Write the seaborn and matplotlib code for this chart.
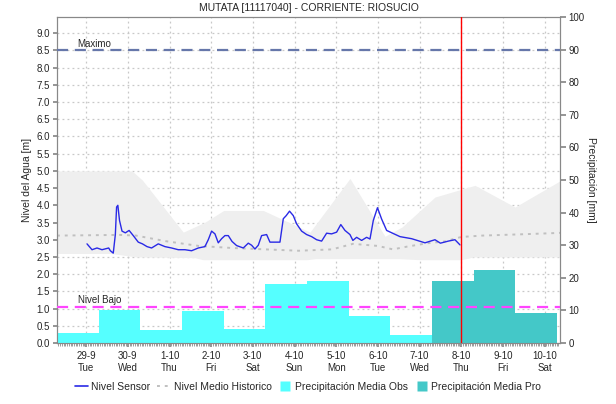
import numpy as np
import pandas as pd
import matplotlib
matplotlib.use("Agg")
import matplotlib.pyplot as plt
from matplotlib.lines import Line2D
from matplotlib.ticker import MultipleLocator, FormatStrFormatter
import seaborn as sns

# ---------------- data ----------------
day_labels = ["29-9", "30-9", "1-10", "2-10", "3-10", "4-10", "5-10", "6-10", "7-10", "8-10", "9-10", "10-10"]
weekday_labels = ["Tue", "Wed", "Thu", "Fri", "Sat", "Sun", "Mon", "Tue", "Wed", "Thu", "Fri", "Sat"]

# precipitation per day [mm]
precip_obs = [3.0, 10.2, 4.0, 9.8, 4.3, 18.1, 19.0, 8.4, 2.5]
precip_pro = [19.0, 22.5, 9.2]

# sensor level (days since 29-9, level m)
sensor_t = [0.02, 0.14, 0.26, 0.38, 0.54, 0.58, 0.65, 0.70, 0.73, 0.76, 0.80, 0.86, 0.94, 1.03,
            1.13, 1.25, 1.35, 1.46, 1.57, 1.73, 1.89, 2.05, 2.21, 2.37, 2.53, 2.69, 2.85, 2.93,
            3.01, 3.09, 3.17, 3.25, 3.33, 3.41, 3.50, 3.61, 3.77, 3.89, 3.97, 4.05, 4.13, 4.21,
            4.33, 4.41, 4.53, 4.65, 4.73, 4.80, 4.88, 4.97, 5.05, 5.17, 5.29, 5.41, 5.53, 5.65,
            5.77, 5.89, 6.01, 6.11, 6.21, 6.33, 6.40, 6.49, 6.61, 6.73, 6.81, 6.89, 6.99, 7.09,
            7.21, 7.37, 7.53, 7.81, 8.13, 8.37, 8.50, 8.69, 8.85, 8.97]
sensor_v = [2.88, 2.71, 2.76, 2.71, 2.76, 2.68, 2.61, 3.15, 3.95, 4.00, 3.56, 3.25, 3.20, 3.27,
            3.12, 2.93, 2.88, 2.80, 2.76, 2.88, 2.80, 2.76, 2.71, 2.71, 2.68, 2.76, 2.80, 3.00,
            3.25, 3.17, 2.91, 3.03, 3.12, 3.12, 2.95, 2.83, 2.76, 2.90, 2.84, 2.73, 2.84, 3.12,
            3.15, 2.93, 2.93, 2.93, 3.61, 3.70, 3.83, 3.70, 3.46, 3.25, 3.15, 3.09, 3.00, 2.96,
            3.19, 3.17, 3.22, 3.44, 3.27, 3.15, 2.98, 3.07, 2.98, 3.07, 3.02, 3.56, 3.93, 3.60,
            3.27, 3.18, 3.09, 3.03, 2.91, 3.00, 2.90, 2.96, 3.00, 2.85]

# historic mean level
mean_t = [-0.7, 0.8, 1.2, 1.9, 2.7, 3.5, 4.3, 5.1, 5.9, 6.4, 7.0, 7.36, 7.7, 8.2, 8.6, 9.0, 9.5, 10.5, 11.4]
mean_v = [3.12, 3.14, 3.12, 2.96, 2.82, 2.76, 2.72, 2.68, 2.72, 2.88, 2.82, 2.72, 2.80, 2.90, 2.95, 3.08, 3.12, 3.16, 3.20]

# historic envelope
band_hi_t = [-0.7, 1.1, 1.35, 2.33, 2.85, 3.3, 4.25, 5.37, 6.33, 7.17, 7.58, 8.37, 9.33, 10.29, 11.4]
band_hi_v = [5.0, 5.0, 4.73, 3.22, 3.51, 3.85, 3.85, 3.22, 4.78, 3.10, 3.37, 4.24, 4.58, 3.95, 4.73]
band_lo_t = [-0.7, 0.6, 1.2, 2.6, 2.8, 5.3, 5.5, 7.5, 8.0, 9.0, 9.3, 11.4]
band_lo_v = [2.6, 2.6, 2.5, 2.48, 2.42, 2.42, 2.45, 2.45, 2.42, 2.42, 2.5, 2.5]

nivel_maximo = 8.5
nivel_bajo = 1.05
now_day = 9.0
bar_offset = -0.7

# ---------------- style ----------------
sns.set_theme(style="white")
plt.rcParams["font.family"] = ["Liberation Sans", "DejaVu Sans"]
fs = 7

fig = plt.figure(figsize=(6.16, 4.04), dpi=100)
ax = fig.add_axes([57 / 616, 1 - 343 / 404, (560 - 57) / 616, (343 - 17) / 404])
ax2 = ax.twinx()
ax.set_zorder(1)
ax2.set_zorder(2)
ax2.patch.set_visible(False)

xmin, xmax = -0.7, 11.37
ymax_left = 9.47

# band + grid + lines on ax
band_t = sorted(set(band_hi_t) | set(band_lo_t))
hi = np.interp(band_t, band_hi_t, band_hi_v)
lo = np.interp(band_t, band_lo_t, band_lo_v)
ax.fill_between(band_t, lo, hi, color="#efefef", lw=0, zorder=1)

df_mean = pd.DataFrame({"t": mean_t, "v": mean_v})
sns.lineplot(data=df_mean, x="t", y="v", ax=ax, color="#c0c0c0", lw=1.4,
             linestyle=(0, (1.5, 2.5)), zorder=3)
df_s = pd.DataFrame({"t": sensor_t, "v": sensor_v})
sns.lineplot(data=df_s, x="t", y="v", ax=ax, color="#2a2ae6", lw=1.0, zorder=4)

ax.set_xlim(xmin, xmax)
ax.set_ylim(0, ymax_left)
ax.yaxis.set_major_locator(MultipleLocator(0.5))
ax.yaxis.set_major_formatter(FormatStrFormatter("%.1f"))
ax.set_xticks(range(len(day_labels)))
ax.set_xticklabels([f"{d}\n{w}" for d, w in zip(day_labels, weekday_labels)], fontsize=fs, linespacing=1.25)
ax.xaxis.set_minor_locator(MultipleLocator(1 / 24))
ax.grid(True, which="major", color="#c8c8c8", linestyle=(0, (1.5, 2.5)), lw=0.9, zorder=0)
ax.set_axisbelow(True)
ax.tick_params(axis="y", labelsize=fs, length=3, color="#888888", pad=2, left=True)
ax.tick_params(axis="x", which="major", length=3, color="#888888", pad=3, bottom=True)
ax.tick_params(axis="x", which="minor", length=2, color="#777777", width=0.5, bottom=True)
ax.set_xlabel("")
ax.set_ylabel("Nivel del Agua [m]", fontsize=fs + 0.5, labelpad=3)

# bars on ax2
n_obs = len(precip_obs)
bar_x = [bar_offset + i for i in range(n_obs + len(precip_pro))]
ax2.bar(bar_x[:n_obs], precip_obs, width=1.0, align="edge", color="#55ffff", lw=0, zorder=1)
ax2.bar(bar_x[n_obs:], precip_pro, width=1.0, align="edge", color="#44c8c8", lw=0, zorder=1)
ax2.set_ylim(0, 100)
ax2.yaxis.set_major_locator(MultipleLocator(10))
ax2.tick_params(axis="y", labelsize=fs, length=4, color="#888888", pad=2, right=True)
ax2.set_ylabel("Precipitación [mm]", fontsize=fs + 0.5, rotation=270, labelpad=8)
ax2.grid(False)

# threshold lines (left axis data coords) drawn over the bars
ytr = ax.get_yaxis_transform()
ax2.plot([0, 1], [nivel_maximo, nivel_maximo], transform=ytr, color="#6677aa", lw=1.6,
         linestyle=(0, (5, 3)), zorder=5)
ax2.plot([0, 1], [nivel_bajo, nivel_bajo], transform=ytr, color="#ff44ff", lw=1.6,
         linestyle=(0, (5, 3)), zorder=5)
ax2.axvline(now_day, color="#ff0000", lw=1.0, zorder=6)
ax2.text(-0.22, nivel_maximo + 0.04, "Maximo", transform=ax.transData, fontsize=fs,
         va="bottom", ha="left", zorder=7)
ax2.text(-0.2, nivel_bajo + 0.04, "Nivel Bajo", transform=ax.transData, fontsize=fs,
         va="bottom", ha="left", zorder=7)

for a in (ax, ax2):
    for s in a.spines.values():
        s.set_color("#888888")
        s.set_linewidth(0.8)

ax.set_title("MUTATA [11117040] - CORRIENTE: RIOSUCIO", fontsize=fs + 0.5, pad=4)

handles = [
    Line2D([0], [0], color="#2a2ae6", lw=1.2),
    Line2D([0], [0], color="#c0c0c0", lw=1.4, linestyle=(0, (1.5, 2.5))),
    Line2D([0], [0], marker="s", color="none", markerfacecolor="#55ffff", markeredgecolor="none", markersize=7),
    Line2D([0], [0], marker="s", color="none", markerfacecolor="#44c8c8", markeredgecolor="none", markersize=7),
]
labels = ["Nivel Sensor", "Nivel Medio Historico", "Precipitación Media Obs", "Precipitación Media Pro"]
fig.legend(handles, labels, loc="center", bbox_to_anchor=(0.5, 1 - 387 / 404), ncol=4,
           frameon=False, fontsize=fs + 0.5, handlelength=1.3, handletextpad=0.25,
           columnspacing=0.7)

fig.savefig("out.png", dpi=100)
